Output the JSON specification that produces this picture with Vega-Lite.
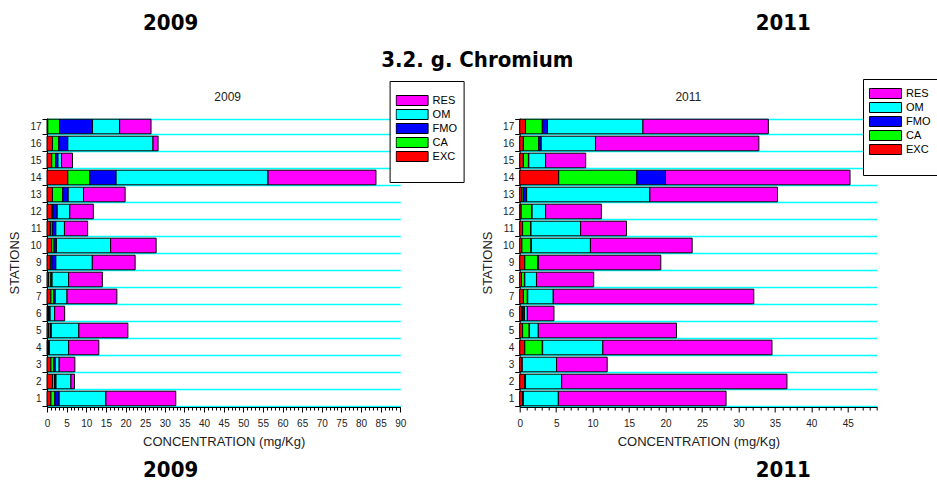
{
  "$schema": "https://vega.github.io/schema/vega-lite/v6.json",
  "background": "white",
  "padding": {"left": 8, "top": 12, "right": 0, "bottom": 0},
  "datasets": {
    "d2009": [
      {"station": 1, "EXC": 1.0, "CA": 1.0, "FMO": 1.1, "OM": 11.9, "RES": 17.8},
      {"station": 2, "EXC": 1.4, "CA": 0.5, "FMO": 0.4, "OM": 3.8, "RES": 0.9},
      {"station": 3, "EXC": 1.0, "CA": 0.7, "FMO": 0.4, "OM": 1.0, "RES": 4.0},
      {"station": 4, "EXC": 0.25, "CA": 0.15, "FMO": 0.2, "OM": 4.9, "RES": 7.7},
      {"station": 5, "EXC": 0.4, "CA": 0.45, "FMO": 0.25, "OM": 7.0, "RES": 12.5},
      {"station": 6, "EXC": 0.25, "CA": 0.15, "FMO": 0.4, "OM": 1.15, "RES": 2.55},
      {"station": 7, "EXC": 1.0, "CA": 0.7, "FMO": 0.4, "OM": 3.0, "RES": 12.7},
      {"station": 8, "EXC": 0.4, "CA": 0.6, "FMO": 0.3, "OM": 4.2, "RES": 8.6},
      {"station": 9, "EXC": 0.85, "CA": 0.4, "FMO": 1.0, "OM": 9.3, "RES": 10.9},
      {"station": 10, "EXC": 1.2, "CA": 0.6, "FMO": 0.6, "OM": 13.8, "RES": 11.6},
      {"station": 11, "EXC": 0.85, "CA": 0.5, "FMO": 0.9, "OM": 2.2, "RES": 5.9},
      {"station": 12, "EXC": 1.2, "CA": 0.3, "FMO": 1.1, "OM": 3.2, "RES": 6.0},
      {"station": 13, "EXC": 1.4, "CA": 2.6, "FMO": 1.4, "OM": 3.9, "RES": 10.6},
      {"station": 14, "EXC": 5.3, "CA": 5.6, "FMO": 6.7, "OM": 38.7, "RES": 27.5},
      {"station": 15, "EXC": 1.2, "CA": 1.0, "FMO": 0.6, "OM": 0.9, "RES": 2.8},
      {"station": 16, "EXC": 1.4, "CA": 1.6, "FMO": 2.3, "OM": 21.7, "RES": 1.3},
      {"station": 17, "EXC": 0.2, "CA": 3.0, "FMO": 8.4, "OM": 6.9, "RES": 8.0}
    ],
    "d2011": [
      {"station": 1, "EXC": 0.4, "CA": 0.05, "FMO": 0.05, "OM": 4.8, "RES": 23.0},
      {"station": 2, "EXC": 0.7, "CA": 0.05, "FMO": 0.05, "OM": 4.95, "RES": 30.9},
      {"station": 3, "EXC": 0.25, "CA": 0.05, "FMO": 0.05, "OM": 4.7, "RES": 6.95},
      {"station": 4, "EXC": 0.7, "CA": 2.4, "FMO": 0.05, "OM": 8.25, "RES": 23.2},
      {"station": 5, "EXC": 0.4, "CA": 0.9, "FMO": 0.05, "OM": 1.2, "RES": 18.95},
      {"station": 6, "EXC": 0.25, "CA": 0.15, "FMO": 0.25, "OM": 0.4, "RES": 3.65},
      {"station": 7, "EXC": 0.5, "CA": 0.55, "FMO": 0.05, "OM": 3.5, "RES": 27.5},
      {"station": 8, "EXC": 0.25, "CA": 0.4, "FMO": 0.05, "OM": 1.6, "RES": 7.85},
      {"station": 9, "EXC": 0.7, "CA": 1.75, "FMO": 0.05, "OM": 0.05, "RES": 16.8},
      {"station": 10, "EXC": 0.3, "CA": 1.25, "FMO": 0.05, "OM": 8.1, "RES": 13.95},
      {"station": 11, "EXC": 0.4, "CA": 1.1, "FMO": 0.05, "OM": 6.8, "RES": 6.3},
      {"station": 12, "EXC": 0.2, "CA": 1.45, "FMO": 0.05, "OM": 1.85, "RES": 7.65},
      {"station": 13, "EXC": 0.3, "CA": 0.2, "FMO": 0.45, "OM": 16.9, "RES": 17.5},
      {"station": 14, "EXC": 5.35, "CA": 10.7, "FMO": 3.95, "OM": 0.0, "RES": 25.3},
      {"station": 15, "EXC": 0.5, "CA": 0.7, "FMO": 0.05, "OM": 2.3, "RES": 5.5},
      {"station": 16, "EXC": 0.5, "CA": 2.1, "FMO": 0.35, "OM": 7.45, "RES": 22.4},
      {"station": 17, "EXC": 0.8, "CA": 2.3, "FMO": 0.7, "OM": 13.1, "RES": 17.2}
    ],
    "fractionOrder": [
      {"fraction": "EXC", "rank": 1},
      {"fraction": "CA", "rank": 2},
      {"fraction": "FMO", "rank": 3},
      {"fraction": "OM", "rank": 4},
      {"fraction": "RES", "rank": 5}
    ]
  },
  "config": {
    "view": {"stroke": null},
    "font": "Liberation Sans",
    "axis": {
      "domainColor": "black",
      "tickColor": "black",
      "labelColor": "#222",
      "titleColor": "#222",
      "labelFont": "Liberation Sans",
      "titleFont": "Liberation Sans",
      "titleFontWeight": "normal"
    }
  },
  "columns": 2,
  "bounds": "flush",
  "align": "each",
  "spacing": {"row": 53, "column": 118.7},
  "resolve": {"scale": {"x": "independent", "y": "independent", "color": "shared"}, "legend": {"color": "independent"}, "axis": {"x": "independent", "y": "independent"}},
  "concat": [
    {
      "width": 353.3,
      "height": 20,
      "layer": [
        {
          "data": {"values": [{"t": "2009"}]},
          "mark": {"type": "text", "font": "DejaVu Sans Condensed", "fontWeight": "bold", "fontSize": 22, "baseline": "middle", "align": "center", "dx": -53, "dy": -32, "color": "black"},
          "encoding": {"text": {"field": "t", "type": "nominal"}}
        },
        {
          "data": {"values": [{"t": "3.2. g. Chromium"}]},
          "mark": {"type": "text", "font": "DejaVu Sans Condensed", "fontWeight": "bold", "fontSize": 22, "baseline": "alphabetic", "align": "center", "dx": 253.7, "dy": 11.7, "color": "black"},
          "encoding": {"text": {"field": "t", "type": "nominal"}}
        },
        {
          "data": {"values": [{"t": "2009"}]},
          "mark": {"type": "text", "font": "Liberation Sans", "fontSize": 12, "baseline": "alphabetic", "align": "center", "dx": 4, "dy": 46.3, "color": "#222"},
          "encoding": {"text": {"field": "t", "type": "nominal"}}
        }
      ]
    },
    {
      "width": 357.3,
      "height": 20,
      "layer": [
        {
          "data": {"values": [{"t": "2011"}]},
          "mark": {"type": "text", "font": "DejaVu Sans Condensed", "fontWeight": "bold", "fontSize": 22, "baseline": "middle", "align": "center", "dx": 85, "dy": -32, "color": "black"},
          "encoding": {"text": {"field": "t", "type": "nominal"}}
        },
        {
          "data": {"values": [{"t": "2011"}]},
          "mark": {"type": "text", "font": "Liberation Sans", "fontSize": 12, "baseline": "alphabetic", "align": "center", "dx": -10, "dy": 46.3, "color": "#222"},
          "encoding": {"text": {"field": "t", "type": "nominal"}}
        }
      ]
    },
    {
      "width": 353.3,
      "height": 289,
      "data": {"name": "d2009"},
      "transform": [
        {"fold": ["EXC", "CA", "FMO", "OM", "RES"], "as": ["fraction", "value"]},
        {"lookup": "fraction", "from": {"data": {"name": "fractionOrder"}, "key": "fraction", "fields": ["rank"]}}
      ],
      "mark": {"type": "bar", "stroke": "black", "strokeWidth": 1},
      "encoding": {
        "y": {
          "field": "station", "type": "ordinal", "sort": "descending",
          "scale": {"paddingInner": 0.14, "paddingOuter": 0.07},
          "axis": {"title": "STATIONS", "titleFontSize": 13, "titlePadding": 8, "labelFontSize": 10, "labelPadding": 1, "tickSize": 5, "tickBand": "extent", "grid": true, "gridColor": "#00FFFF", "gridWidth": 1.3, "labelAngle": 0}
        },
        "x": {
          "field": "value", "type": "quantitative", "stack": "zero",
          "scale": {"domain": [0, 90], "nice": false},
          "axis": {
            "title": "CONCENTRATION (mg/Kg)", "titleFontSize": 13, "titlePadding": 7,
            "values": [0,1,2,3,4,5,6,7,8,9,10,11,12,13,14,15,16,17,18,19,20,21,22,23,24,25,26,27,28,29,30,31,32,33,34,35,36,37,38,39,40,41,42,43,44,45,46,47,48,49,50,51,52,53,54,55,56,57,58,59,60,61,62,63,64,65,66,67,68,69,70,71,72,73,74,75,76,77,78,79,80,81,82,83,84,85,86,87,88,89,90],
            "labelExpr": "datum.value % 5 === 0 ? datum.label : ''",
            "labelOverlap": false, "labelFlush": false, "labelFontSize": 10, "labelPadding": 6, "grid": false,
            "tickSize": {"condition": {"test": "datum.value % 5 === 0", "value": 5}, "value": 3}
          }
        },
        "color": {
          "field": "fraction", "type": "nominal",
          "scale": {"domain": ["RES", "OM", "FMO", "CA", "EXC", " "], "range": ["#FF00FF", "#00FFFF", "#0000FF", "#00FF00", "#FF0000", "#FFFFFF"]},
          "legend": {"orient": "none", "legendX": 342.6, "legendY": -37, "title": " ", "titleOrient": "top", "titleFontSize": 8, "titlePadding": 0, "symbolType": "M-1,-0.3125H1V0.3125H-1Z", "symbolSize": 1024, "symbolStrokeColor": "black", "symbolStrokeWidth": 1, "symbolOpacity": 1, "clipHeight": 11, "rowPadding": 2, "labelFontSize": 11, "labelOffset": 4, "labelColor": "black", "padding": 6, "strokeColor": "black", "fillColor": "white",
            "encode": {"symbols": {"update": {"opacity": {"signal": "datum.value === ' ' ? 0 : 1"}}}}}
        },
        "order": {"field": "rank", "type": "quantitative"}
      }
    },
    {
      "width": 357.3,
      "height": 289,
      "data": {"name": "d2011"},
      "transform": [
        {"fold": ["EXC", "CA", "FMO", "OM", "RES"], "as": ["fraction", "value"]},
        {"lookup": "fraction", "from": {"data": {"name": "fractionOrder"}, "key": "fraction", "fields": ["rank"]}}
      ],
      "mark": {"type": "bar", "stroke": "black", "strokeWidth": 1},
      "encoding": {
        "y": {
          "field": "station", "type": "ordinal", "sort": "descending",
          "scale": {"paddingInner": 0.14, "paddingOuter": 0.07},
          "axis": {"title": "STATIONS", "titleFontSize": 13, "titlePadding": 8, "labelFontSize": 10, "labelPadding": 1, "tickSize": 5, "tickBand": "extent", "grid": true, "gridColor": "#00FFFF", "gridWidth": 1.3, "labelAngle": 0}
        },
        "x": {
          "field": "value", "type": "quantitative", "stack": "zero",
          "scale": {"domain": [0, 49], "nice": false},
          "axis": {
            "title": "CONCENTRATION (mg/Kg)", "titleFontSize": 13, "titlePadding": 7,
            "values": [0,1,2,3,4,5,6,7,8,9,10,11,12,13,14,15,16,17,18,19,20,21,22,23,24,25,26,27,28,29,30,31,32,33,34,35,36,37,38,39,40,41,42,43,44,45,46,47,48,49],
            "labelExpr": "datum.value % 5 === 0 ? datum.label : ''",
            "labelOverlap": false, "labelFlush": false, "labelFontSize": 10, "labelPadding": 6, "grid": false,
            "tickSize": {"condition": {"test": "datum.value % 5 === 0", "value": 5}, "value": 3}
          }
        },
        "color": {
          "field": "fraction", "type": "nominal",
          "scale": {"domain": ["RES", "OM", "FMO", "CA", "EXC", " "], "range": ["#FF00FF", "#00FFFF", "#0000FF", "#00FF00", "#FF0000", "#FFFFFF"]},
          "legend": {"orient": "none", "legendX": 343.3, "legendY": -39, "title": " ", "titleOrient": "top", "titleFontSize": 3, "titlePadding": 0, "symbolType": "M-1,-0.3125H1V0.3125H-1Z", "symbolSize": 1024, "symbolStrokeColor": "black", "symbolStrokeWidth": 1, "symbolOpacity": 1, "clipHeight": 11, "rowPadding": 2, "labelFontSize": 11, "labelOffset": 4, "labelColor": "black", "padding": 6, "strokeColor": "black", "fillColor": "white",
            "encode": {"symbols": {"update": {"opacity": {"signal": "datum.value === ' ' ? 0 : 1"}}}}}
        },
        "order": {"field": "rank", "type": "quantitative"}
      }
    },
    {
      "width": 353.3,
      "height": 20,
      "data": {"values": [{"t": "2009"}]},
      "mark": {"type": "text", "font": "DejaVu Sans Condensed", "fontWeight": "bold", "fontSize": 22, "baseline": "middle", "align": "center", "dx": -53, "color": "black"},
      "encoding": {"text": {"field": "t", "type": "nominal"}}
    },
    {
      "width": 357.3,
      "height": 20,
      "data": {"values": [{"t": "2011"}]},
      "mark": {"type": "text", "font": "DejaVu Sans Condensed", "fontWeight": "bold", "fontSize": 22, "baseline": "middle", "align": "center", "dx": 85, "color": "black"},
      "encoding": {"text": {"field": "t", "type": "nominal"}}
    }
  ]
}
